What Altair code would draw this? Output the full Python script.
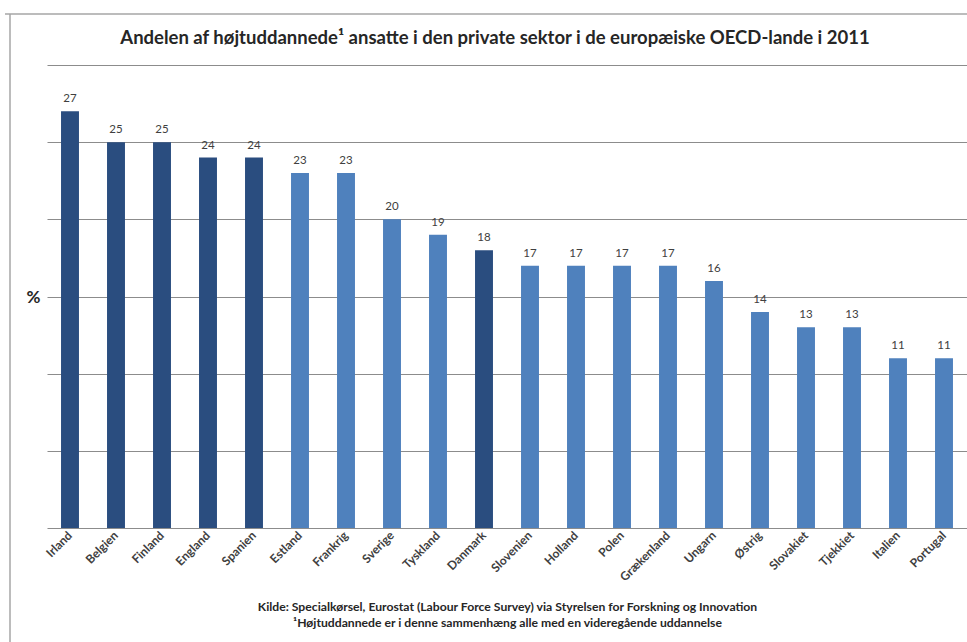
import altair as alt
import pandas as pd

countries = ["Irland", "Belgien", "Finland", "England", "Spanien", "Estland", "Frankrig",
             "Sverige", "Tyskland", "Danmark", "Slovenien", "Holland", "Polen", "Grækenland",
             "Ungarn", "Østrig", "Slovakiet", "Tjekkiet", "Italien", "Portugal"]
values = [27, 25, 25, 24, 24, 23, 23, 20, 19, 18, 17, 17, 17, 17, 16, 14, 13, 13, 11, 11]
groups = ["mørk"] * 5 + ["lys"] * 4 + ["mørk"] + ["lys"] * 10
grid_values = [0, 5, 10, 15, 20, 25, 30]

title_text = "Andelen af højtuddannede¹ ansatte i den private sektor i de europæiske OECD-lande i 2011"
footer_lines = [
    "Kilde: Specialkørsel, Eurostat (Labour Force Survey) via Styrelsen for Forskning og Innovation",
    "¹Højtuddannede er i denne sammenhæng alle med en videregående uddannelse",
]

df = pd.DataFrame({"land": countries, "andel": values, "gruppe": groups})

FONT = "Lato"
TXT = "#262626"

x_enc = alt.X(
    "land:N",
    sort=countries,
    scale=alt.Scale(paddingInner=0.61, paddingOuter=0.305),
    axis=alt.Axis(
        title=footer_lines,
        labelAngle=-45,
        labelAlign="right",
        labelBaseline="middle",
        labelFont=FONT,
        labelFontWeight="bold",
        labelFontSize=12,
        labelColor="#404040",
        labelPadding=5,
        ticks=False,
        domain=False,
        titleFont=FONT,
        titleFontWeight="bold",
        titleFontSize=12.2,
        titleColor=TXT,
        titleBaseline="top",
        titleAnchor="middle",
        titleY=72,
        titleLineHeight=16,
    ),
)

y_enc = alt.Y(
    "andel:Q",
    scale=alt.Scale(domain=[0, 30], nice=False, zero=True),
    axis=alt.Axis(
        values=grid_values,
        labels=False,
        ticks=False,
        domain=False,
        grid=True,
        gridColor="#8c8c8c",
        gridWidth=1.2,
        title="%",
        titleAngle=0,
        titleX=-14,
        titleY=232,
        titleAlign="center",
        titleBaseline="middle",
        titleFont=FONT,
        titleFontSize=17,
        titleFontWeight="bold",
        titleColor=TXT,
    ),
)

base = alt.Chart(df)

bars = base.mark_bar().encode(
    x=x_enc,
    y=y_enc,
    color=alt.Color("gruppe:N", scale=alt.Scale(domain=["mørk", "lys"], range=["#2a4d7f", "#4f81bd"]), legend=None),
)

labels = base.mark_text(baseline="bottom", dy=-7, font=FONT, fontSize=11.5, color="#404040").encode(
    x=alt.X("land:N", sort=countries),
    y=alt.Y("andel:Q"),
    text=alt.Text("andel:Q"),
)

frame_data = alt.Data(values=[{"k": 1}])
frame_top = alt.Chart(frame_data).mark_rule(color="#a6a6a6", strokeWidth=1.5).encode(
    x=alt.value(-42), x2=alt.value(930), y=alt.value(-51)
)
frame_left = alt.Chart(frame_data).mark_rule(color="#a6a6a6", strokeWidth=1.5).encode(
    x=alt.value(-37), y=alt.value(-51), y2=alt.value(600)
)

chart = alt.layer(frame_top, frame_left, bars, labels).properties(
    width=920,
    height=463,
    autosize=alt.AutoSizeParams(type="none"),
    padding={"left": 47, "top": 65, "right": 0, "bottom": 114},
    background="white",
    title=alt.Title(
        title_text,
        font=FONT,
        fontSize=18.5,
        fontWeight="bold",
        color=TXT,
        anchor="middle",
        frame="group",
        baseline="alphabetic",
        offset=-49,
        dx=-12,
    ),
).configure_view(stroke=None)

chart.save("out.html", embed_options={"renderer": "svg", "actions": False})
